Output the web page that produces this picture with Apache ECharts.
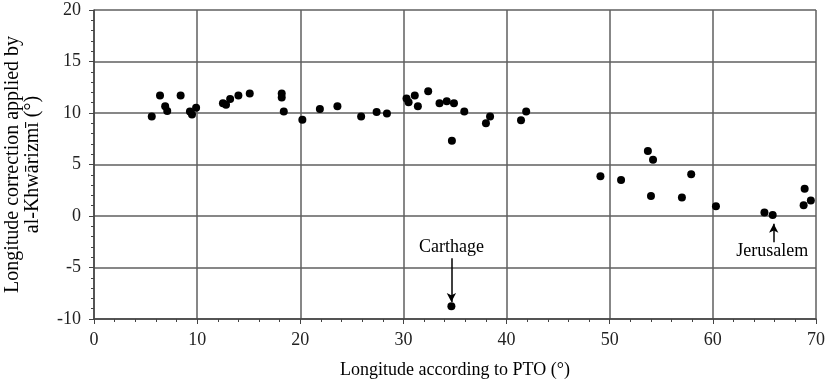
<!DOCTYPE html>
<html>
<head>
<meta charset="utf-8">
<script src="https://cdn.jsdelivr.net/npm/echarts@6/dist/echarts.min.js"></script>
<style>
  html, body { margin: 0; padding: 0; background: #fff; }
  #chart { width: 826px; height: 388px; }
</style>
</head>
<body>
<div id="chart"></div>
<script>
// longitude according to PTO (deg)
const ptoLon = [
  5.6, 6.4, 6.9, 7.1, 8.4, 9.3, 9.5, 9.9, 12.5, 12.8, 13.2, 14.0, 15.1,
  18.2, 18.2, 18.4, 20.2, 21.9, 23.6, 25.9, 27.4, 28.4,
  30.3, 30.5, 31.1, 31.4, 32.4, 33.5, 34.2, 34.9, 34.7, 35.9, 38.0, 38.4, 41.4, 41.9,
  34.65,
  49.1, 51.1, 53.7, 54.2, 54.0, 57.0, 57.9, 60.3, 65.0, 65.8, 68.9, 68.8, 69.5
];
// correction applied by al-Khwarizmi (deg)
const correction = [
  9.65, 11.7, 10.65, 10.2, 11.7, 10.15, 9.85, 10.5, 10.95, 10.8, 11.35, 11.7, 11.9,
  11.9, 11.5, 10.15, 9.35, 10.4, 10.65, 9.65, 10.1, 9.95,
  11.4, 11.05, 11.7, 10.65, 12.1, 10.95, 11.15, 10.95, 7.3, 10.15, 9.0, 9.65, 9.3, 10.15,
  -8.75,
  3.85, 3.5, 6.3, 5.45, 1.95, 1.8, 4.05, 0.95, 0.35, 0.1, 2.65, 1.05, 1.5
];
const xTicks = [0, 10, 20, 30, 40, 50, 60, 70];
const yTicks = [-10, -5, 0, 5, 10, 15, 20];

// annotations: label, arrow x, arrow from y, arrow to y, label position
const noteNames = ['Carthage', 'Jerusalem'];
const noteX = [34.65, 65.9];
const noteFromY = [-4.1, -2.55];
const noteToY = [-8.35, -0.75];
const noteLabelX = [34.65, 65.75];
const noteLabelY = [-3.05, -3.45];

const points = ptoLon.map((x, i) => [x, correction[i]]);
const font = 'Liberation Serif';
const gridColor = '#5f5f5f';
const axisColor = '#444';

const chart = echarts.init(document.getElementById('chart'));
chart.setOption({
  animation: false,
  grid: { left: 94, right: 10, top: 10, bottom: 69, outerBoundsMode: 'none', containLabel: false },
  xAxis: {
    type: 'value',
    min: xTicks[0],
    max: xTicks[xTicks.length - 1],
    interval: 10,
    name: 'Longitude according to PTO (°)',
    nameLocation: 'middle',
    nameGap: 42,
    nameTextStyle: { fontFamily: font, fontSize: 18, color: '#000' },
    axisLine: { onZero: false, lineStyle: { color: axisColor, width: 1.5 } },
    axisTick: { length: 5, lineStyle: { color: axisColor } },
    minorTick: { show: true, splitNumber: 5, length: 3, lineStyle: { color: axisColor } },
    splitLine: { show: true, lineStyle: { color: gridColor, width: 1.5 } },
    axisLabel: { fontFamily: font, fontSize: 18, color: '#222', margin: 12 }
  },
  yAxis: {
    type: 'value',
    min: yTicks[0],
    max: yTicks[yTicks.length - 1],
    interval: 5,
    name: 'Longitude correction applied by\nal-Khwārizmī (°)',
    nameLocation: 'middle',
    nameRotate: 90,
    nameGap: 51,
    nameTextStyle: { fontFamily: font, fontSize: 20, lineHeight: 20, color: '#000' },
    axisLine: { show: true, onZero: false, lineStyle: { color: axisColor, width: 1.5 } },
    axisTick: { show: true, length: 5, lineStyle: { color: axisColor } },
    minorTick: { show: true, splitNumber: 5, length: 3, lineStyle: { color: axisColor } },
    splitLine: { show: true, lineStyle: { color: gridColor, width: 1.5 } },
    axisLabel: { fontFamily: font, fontSize: 18, color: '#222', margin: 13 }
  },
  series: [{
    type: 'scatter',
    data: points,
    symbolSize: 8,
    itemStyle: { color: '#000', opacity: 1 },
    markLine: {
      silent: true,
      symbol: ['none', 'arrow'],
      symbolSize: [7, 9],
      lineStyle: { color: '#000', width: 1.5, type: 'solid' },
      label: { show: false },
      data: noteNames.map((n, i) => [
        { coord: [noteX[i], noteFromY[i]] },
        { coord: [noteX[i], noteToY[i]] }
      ])
    },
    markPoint: {
      silent: true,
      symbol: 'circle',
      symbolSize: 0,
      label: {
        show: true,
        position: 'inside',
        fontFamily: font,
        fontSize: 18,
        color: '#000',
        formatter: p => p.name
      },
      data: noteNames.map((n, i) => ({ name: n, coord: [noteLabelX[i], noteLabelY[i]] }))
    }
  }]
});
</script>
</body>
</html>
